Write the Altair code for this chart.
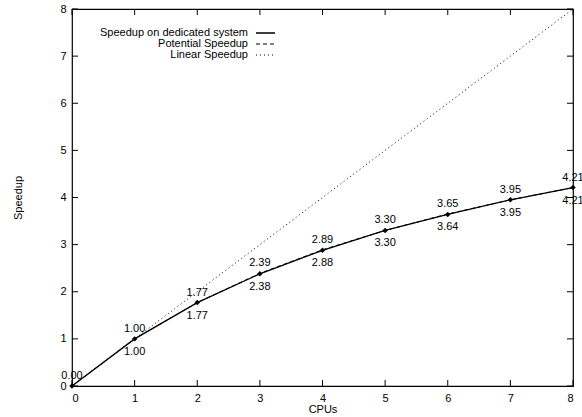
import altair as alt
import pandas as pd

cpus = [0, 1, 2, 3, 4, 5, 6, 7, 8]
dedicated = [0.00, 1.00, 1.77, 2.38, 2.88, 3.30, 3.64, 3.95, 4.21]
potential = [0.00, 1.00, 1.77, 2.39, 2.89, 3.30, 3.65, 3.95, 4.21]
linear = [0, 1, 2, 3, 4, 5, 6, 7, 8]
ticks = [0, 1, 2, 3, 4, 5, 6, 7, 8]
legend_names = ["Speedup on dedicated system", "Potential Speedup", "Linear Speedup"]

W, H = 501, 377
FONT = "Liberation Sans"

df = pd.DataFrame({"cpus": cpus, "dedicated": dedicated, "potential": potential, "linear": linear})
df["ded_lab"] = [f"{v:.2f}" if c > 0 else "" for c, v in zip(cpus, dedicated)]
df["pot_lab"] = [f"{v:.2f}" for v in potential]
tdf = pd.DataFrame({"t": ticks})

xs = alt.Scale(domain=[0, 8], nice=False)
ys = alt.Scale(domain=[0, 8], nice=False)

base = alt.Chart(df)

x_enc = alt.X("cpus:Q", scale=xs, title="CPUs", axis=alt.Axis(values=ticks, format="d", titlePadding=0))
y_enc = alt.Y("linear:Q", scale=ys, title="Speedup", axis=alt.Axis(values=ticks, format="d", titlePadding=36))

linear_line = base.mark_line(color="black", strokeWidth=1, strokeDash=[1, 3]).encode(x=x_enc, y=y_enc)
ded_line = base.mark_line(color="black", strokeWidth=1.3).encode(
    x=alt.X("cpus:Q", scale=xs), y=alt.Y("dedicated:Q", scale=ys))
pot_line = base.mark_line(color="black", strokeWidth=1, strokeDash=[4, 3]).encode(
    x=alt.X("cpus:Q", scale=xs), y=alt.Y("potential:Q", scale=ys))
pts = base.mark_point(shape="diamond", filled=True, color="black", size=30, opacity=1).encode(
    x=alt.X("cpus:Q", scale=xs), y=alt.Y("dedicated:Q", scale=ys))
pot_text = base.mark_text(dy=-10, font=FONT, fontSize=11, color="black").encode(
    x=alt.X("cpus:Q", scale=xs), y=alt.Y("potential:Q", scale=ys), text="pot_lab:N")
ded_text = base.mark_text(dy=13, font=FONT, fontSize=11, color="black").encode(
    x=alt.X("cpus:Q", scale=xs), y=alt.Y("dedicated:Q", scale=ys), text="ded_lab:N")

tb = alt.Chart(tdf)
tick_bottom = tb.mark_rule(color="black").encode(
    x=alt.X("t:Q", scale=xs), y=alt.value(H), y2=alt.value(H - 6))
tick_top = tb.mark_rule(color="black").encode(
    x=alt.X("t:Q", scale=xs), y=alt.value(0), y2=alt.value(6))
tick_left = tb.mark_rule(color="black").encode(
    y=alt.Y("t:Q", scale=ys), x=alt.value(0), x2=alt.value(6))
tick_right = tb.mark_rule(color="black").encode(
    y=alt.Y("t:Q", scale=ys), x=alt.value(W), x2=alt.value(W - 6))

row_y = [24, 35, 46]
dashes = [[1, 0], [4, 3], [1, 3]]
widths = [1.3, 1, 1]
legend_layers = []
for i, name in enumerate(legend_names):
    ld = alt.Chart(pd.DataFrame({"name": [name]}))
    legend_layers.append(ld.mark_text(align="right", baseline="middle", font=FONT, fontSize=11,
                                      color="black").encode(
        text="name:N", x=alt.value(176), y=alt.value(row_y[i])))
    legend_layers.append(ld.mark_rule(color="black", strokeWidth=widths[i], strokeDash=dashes[i]).encode(
        x=alt.value(184), x2=alt.value(203), y=alt.value(row_y[i])))

chart = alt.layer(
    linear_line, ded_line, pot_line, pts, pot_text, ded_text,
    tick_bottom, tick_top, tick_left, tick_right,
    *legend_layers,
).properties(
    width=W, height=H,
    padding={"left": 72, "top": 9, "right": 9, "bottom": 31},
    autosize=alt.AutoSizeParams(type="none"),
    background="white",
).configure_view(stroke="black", strokeWidth=1.2).configure_axis(
    tickSize=0, domain=False, grid=False, labelPadding=6, labelFontSize=11, labelFont=FONT,
    labelColor="black", titleFont=FONT, titleFontSize=11, titleFontWeight="normal", titleColor="black")

chart.save("out.html", embed_options={"renderer": "svg", "actions": False})
